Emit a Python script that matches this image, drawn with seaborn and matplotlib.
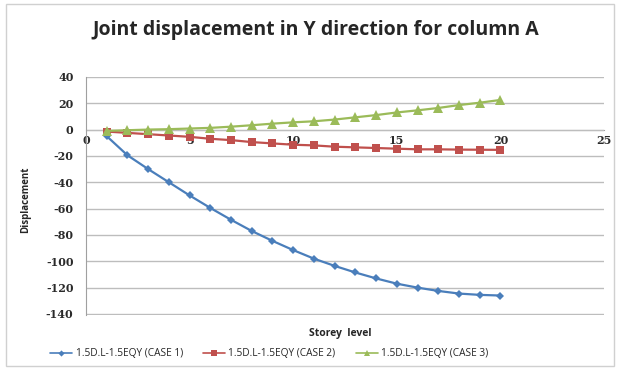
import matplotlib
matplotlib.use("Agg")
import matplotlib.pyplot as plt
import numpy as np
import pandas as pd
import seaborn as sns
from matplotlib.patches import Rectangle
from matplotlib.lines import Line2D

# Storey levels and joint displacements (mm) for the three load cases
storey = list(range(1, 21))
case1 = [-5, -19.5, -30, -40, -50, -59.5, -68.5, -77, -84.5, -91.5,
         -98, -103.5, -108.5, -113, -117, -120, -122.5, -124.5, -125.5, -126]
case2 = [-1.5, -2.5, -3.5, -4.5, -5.5, -7, -8, -9.5, -10.5, -11.5,
         -12, -13, -13.5, -14, -14.5, -15, -15, -15.2, -15.3, -15.4]
case3 = [-1, -0.5, 0, 0.3, 0.8, 1.3, 2.2, 3.3, 4.5, 5.5,
         6.3, 7.6, 9.3, 11, 13, 14.6, 16.4, 18.6, 20.4, 22.5]
series_names = ["1.5D.L-1.5EQY (CASE 1)", "1.5D.L-1.5EQY (CASE 2)", "1.5D.L-1.5EQY (CASE 3)"]
x_ticks = [0, 5, 10, 15, 20, 25]
y_ticks = [40, 20, 0, -20, -40, -60, -80, -100, -120, -140]

df = pd.DataFrame({
    "Storey level": storey * 3,
    "Displacement": case1 + case2 + case3,
    "Case": [series_names[0]] * 20 + [series_names[1]] * 20 + [series_names[2]] * 20,
})

sns.set_style("white")
# tick numbers use a bold serif face; all other text names its own family
plt.rcParams["font.family"] = ["DejaVu Serif"]
plt.rcParams["font.weight"] = "bold"
plt.rcParams["xtick.labelsize"] = 8
plt.rcParams["ytick.labelsize"] = 8
SANS = ["Open Sans", "DejaVu Sans"]

fig = plt.figure(figsize=(6.19, 3.69), dpi=100)
ax = fig.add_axes([86 / 619, 1 - 314.5 / 369, 518 / 619, 238 / 369])

palette = {series_names[0]: "#4A7EBB", series_names[1]: "#C0504D", series_names[2]: "#9BBB59"}
markers = {series_names[0]: "D", series_names[1]: "s", series_names[2]: "^"}
sizes = {series_names[0]: 4.5, series_names[1]: 6.2, series_names[2]: 6.8}

for name in series_names:
    sub = df[df["Case"] == name]
    sns.lineplot(data=sub, x="Storey level", y="Displacement", ax=ax,
                 color=palette[name], marker=markers[name], markersize=sizes[name],
                 markeredgewidth=0, linewidth=1.6, legend=False)

ax.set_xlim(0, 25)
ax.set_ylim(-140.4, 40.3)
ax.set_xticks(x_ticks, [str(t) for t in x_ticks])
ax.set_yticks(y_ticks, [str(t) for t in y_ticks])
ax.tick_params(axis="both", length=0, colors="#2a2a2a")
ax.tick_params(axis="y", pad=9)
ax.tick_params(axis="x", pad=4)

ax.yaxis.grid(True, color="#BDBDBD", linewidth=1.0)
ax.xaxis.grid(False)
for s in ["top", "right"]:
    ax.spines[s].set_visible(False)
ax.spines["bottom"].set_position(("data", 0))
ax.spines["bottom"].set_color("#A0A0A0")
ax.spines["left"].set_color("#A0A0A0")
ax.spines["bottom"].set_zorder(0.5)

ax.set_xlabel("Storey  level", fontsize=7.5, fontweight="bold", family=SANS)
ax.set_ylabel("Displacement", fontsize=7, fontweight="bold", family=SANS)
ax.xaxis.set_label_coords(0.49, -0.055)
ax.yaxis.set_label_coords(-0.105, 0.48)

handles = [Line2D([], [], color=palette[n], marker=markers[n], markersize=sizes[n] * 0.7,
                  markeredgewidth=0, linewidth=1.2) for n in series_names]
fig.legend(handles, series_names, loc="center", bbox_to_anchor=(0.435, 1 - 354 / 369), ncol=3,
           frameon=False, prop={"family": SANS, "size": 7.3, "weight": "normal"},
           handlelength=2.2, columnspacing=2.0, handletextpad=0.3)

fig.text(0.511, 1 - 30 / 369, "Joint displacement in Y direction for column A",
         ha="center", va="center", fontsize=14, fontweight="bold", family=SANS)

fig.patches.append(Rectangle((6 / 619, 1 - 366 / 369), 608 / 619, 362 / 369,
                             transform=fig.transFigure, fill=False,
                             edgecolor="#D0D0D0", linewidth=1.0))

fig.savefig("out.png", dpi=100, facecolor="white")
